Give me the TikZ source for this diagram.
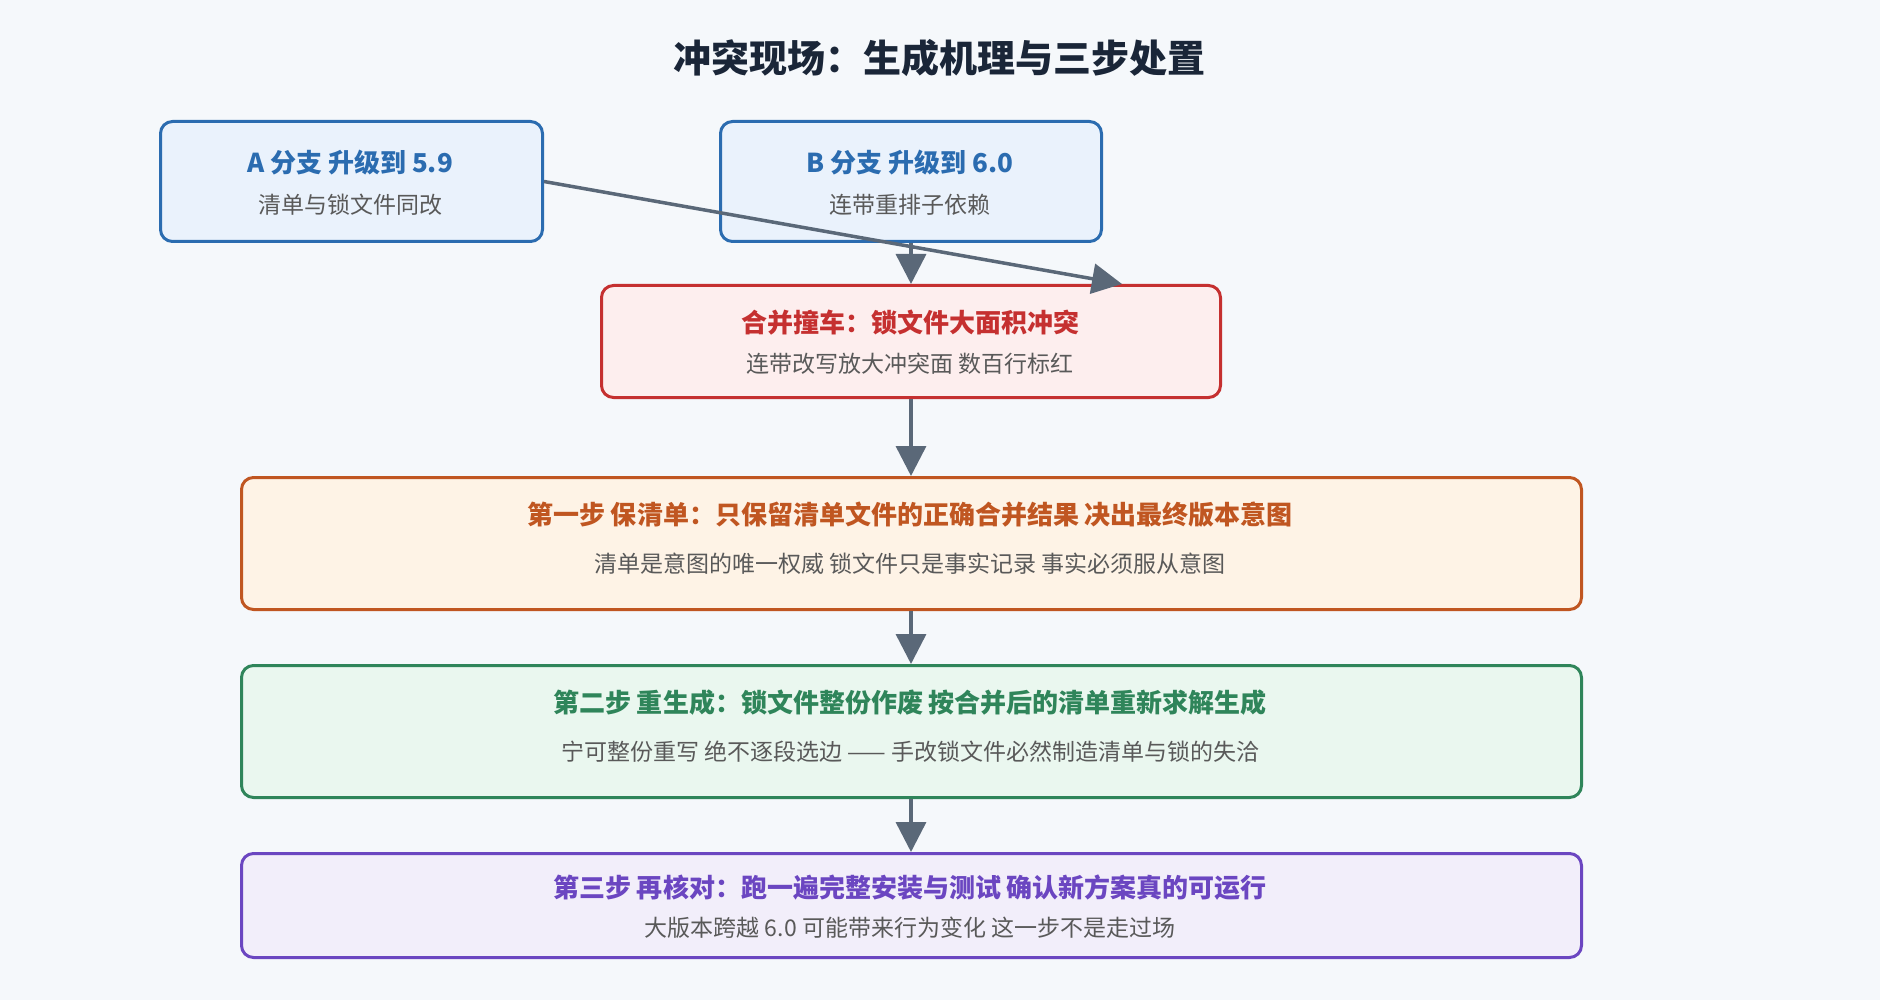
\documentclass[tikz,border=0pt]{standalone}
\usepackage{fontspec}
\setmainfont{Noto Sans CJK SC}
\usetikzlibrary{arrows.meta}
\definecolor{bg}{HTML}{F5F8FB}
\definecolor{ar}{HTML}{5A6878}
\definecolor{cb}{HTML}{2B6CB0}\definecolor{fb}{HTML}{EAF2FC}
\definecolor{cr}{HTML}{C53030}\definecolor{fr}{HTML}{FDEEEE}
\definecolor{co}{HTML}{C05621}\definecolor{fo}{HTML}{FEF3E6}
\definecolor{cg}{HTML}{2F855A}\definecolor{fg}{HTML}{EAF7EF}
\definecolor{cp}{HTML}{6B46C1}\definecolor{fp}{HTML}{F2EEFA}
\definecolor{tt}{HTML}{1A2638}
\tikzset{
 box/.style={draw=#1, line width=3pt, rounded corners=12pt, anchor=north west},
 ttl/.style={font=\fontsize{26}{30}\selectfont\bfseries, text=#1},
 sub/.style={font=\fontsize{23}{27}\selectfont, text=black!65},
 arr/.style={draw=ar, line width=3.5pt, -{Triangle[length=30pt,width=30pt]}}
}
\begin{document}
\begin{tikzpicture}[x=1pt,y=-1pt]
\useasboundingbox[fill=bg] (0,0) rectangle (1880,1000);
\node[font=\fontsize{38}{44}\selectfont\bfseries, text=tt] (title) at (939,58) {冲突现场：生成机理与三步处置};
\node[box=cb, fill=fb, minimum width=382pt, minimum height=120pt] (A) at (159,120) {};
\node[box=cb, fill=fb, minimum width=381pt, minimum height=120pt] (B) at (719,120) {};
\node[box=cr, fill=fr, minimum width=619pt, minimum height=112pt] (M) at (600,284) {};
\node[box=co, fill=fo, minimum width=1340pt, minimum height=132pt] (S1) at (240,476) {};
\node[box=cg, fill=fg, minimum width=1340pt, minimum height=132pt] (S2) at (240,664) {};
\node[box=cp, fill=fp, minimum width=1340pt, minimum height=104pt] (S3) at (240,852) {};
\node[ttl=cb] (At) at (350,163) {A 分支 升级到 5.9};
\node[sub] (As) at (350,205) {清单与锁文件同改};
\node[ttl=cb] (Bt) at (910,163) {B 分支 升级到 6.0};
\node[sub] (Bs) at (910,205) {连带重排子依赖};
\node[ttl=cr] (Mt) at (910,323) {合并撞车：锁文件大面积冲突};
\node[sub] (Ms) at (910,364) {连带改写放大冲突面 数百行标红};
\node[ttl=co] (S1t) at (910,515) {第一步 保清单：只保留清单文件的正确合并结果 决出最终版本意图};
\node[sub] (S1s) at (910,564) {清单是意图的唯一权威 锁文件只是事实记录 事实必须服从意图};
\node[ttl=cg] (S2t) at (910,703) {第二步 重生成：锁文件整份作废 按合并后的清单重新求解生成};
\node[sub] (S2s) at (910,752) {宁可整份重写 绝不逐段选边 —— 手改锁文件必然制造清单与锁的失洽};
\node[ttl=cp] (S3t) at (910,888) {第三步 再核对：跑一遍完整安装与测试 确认新方案真的可运行};
\node[sub] (S3s) at (910,928) {大版本跨越 6.0 可能带来行为变化 这一步不是走过场};
\coordinate (Mtr) at (1122,284);
\draw[arr] (A.east) -- (Mtr);
\draw[arr] (B.south -| M.north) -- (M.north);
\draw[arr] (M.south) -- (S1.north -| M.south);
\draw[arr] (S1.south -| M.south) -- (S2.north -| M.south);
\draw[arr] (S2.south -| M.south) -- (S3.north -| M.south);
\end{tikzpicture}
\end{document}
